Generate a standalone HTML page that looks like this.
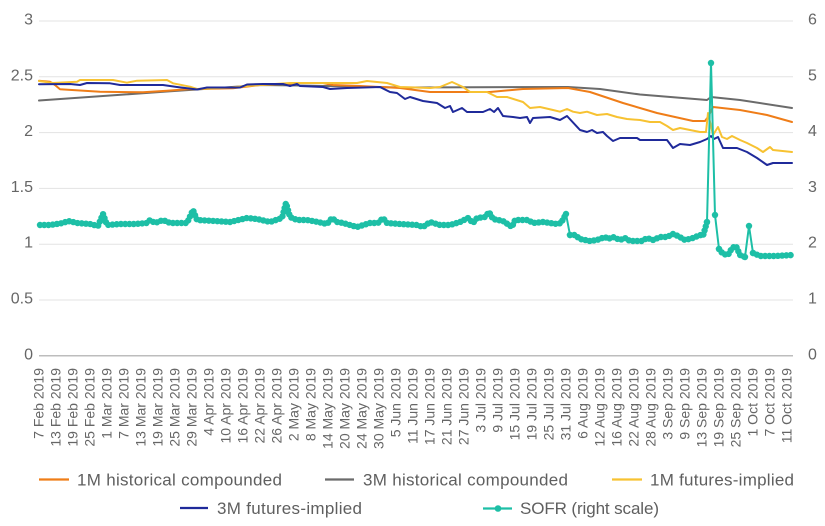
<!DOCTYPE html>
<html>
<head>
<meta charset="utf-8">
<style>
  html, body { margin: 0; padding: 0; background: #ffffff; }
  body { width: 825px; height: 526px; overflow: hidden; }
  svg { display: block; font-family: "Liberation Sans", Arial, sans-serif; }
  .tick { font-size: 16px; fill: #666666; }
  .xl { font-size: 14px; fill: #666666; }
  .lg { font-size: 17px; fill: #5f5f5f; }
</style>
</head>
<body>
<svg width="825" height="526" viewBox="0 0 825 526" xmlns="http://www.w3.org/2000/svg">
  <rect x="0" y="0" width="825" height="526" fill="#ffffff"/>

  <!-- gridlines -->
  <g stroke="#e3e3e3" stroke-width="1">
    <line x1="39" y1="21" x2="793" y2="21"/>
    <line x1="39" y1="76.8" x2="793" y2="76.8"/>
    <line x1="39" y1="132.6" x2="793" y2="132.6"/>
    <line x1="39" y1="188.4" x2="793" y2="188.4"/>
    <line x1="39" y1="244.2" x2="793" y2="244.2"/>
    <line x1="39" y1="300" x2="793" y2="300"/>
  </g>
  <line x1="39" y1="355.8" x2="793" y2="355.8" stroke="#bdbdbd" stroke-width="1.5"/>

  <!-- left axis labels -->
  <g class="tick" text-anchor="end">
    <text x="33" y="24.5">3</text>
    <text x="33" y="80.3">2.5</text>
    <text x="33" y="136.1">2</text>
    <text x="33" y="191.9">1.5</text>
    <text x="33" y="247.7">1</text>
    <text x="33" y="303.5">0.5</text>
    <text x="33" y="359.3">0</text>
  </g>
  <!-- right axis labels -->
  <g class="tick" text-anchor="start">
    <text x="808" y="24.5">6</text>
    <text x="808" y="80.3">5</text>
    <text x="808" y="136.1">4</text>
    <text x="808" y="191.9">3</text>
    <text x="808" y="247.7">2</text>
    <text x="808" y="303.5">1</text>
    <text x="808" y="359.3">0</text>
  </g>

  <!-- x axis labels -->
  <g class="xl" text-anchor="end">
    <text transform="translate(43.3,368) rotate(-90)">7 Feb 2019</text>
    <text transform="translate(60.3,368) rotate(-90)">13 Feb 2019</text>
    <text transform="translate(77.3,368) rotate(-90)">19 Feb 2019</text>
    <text transform="translate(94.3,368) rotate(-90)">25 Feb 2019</text>
    <text transform="translate(111.3,368) rotate(-90)">1 Mar 2019</text>
    <text transform="translate(128.4,368) rotate(-90)">7 Mar 2019</text>
    <text transform="translate(145.4,368) rotate(-90)">13 Mar 2019</text>
    <text transform="translate(162.4,368) rotate(-90)">19 Mar 2019</text>
    <text transform="translate(179.4,368) rotate(-90)">25 Mar 2019</text>
    <text transform="translate(196.4,368) rotate(-90)">29 Mar 2019</text>
    <text transform="translate(213.4,368) rotate(-90)">4 Apr 2019</text>
    <text transform="translate(230.4,368) rotate(-90)">10 Apr 2019</text>
    <text transform="translate(247.4,368) rotate(-90)">16 Apr 2019</text>
    <text transform="translate(264.4,368) rotate(-90)">22 Apr 2019</text>
    <text transform="translate(281.4,368) rotate(-90)">26 Apr 2019</text>
    <text transform="translate(298.5,368) rotate(-90)">2 May 2019</text>
    <text transform="translate(315.5,368) rotate(-90)">8 May 2019</text>
    <text transform="translate(332.5,368) rotate(-90)">14 May 2019</text>
    <text transform="translate(349.5,368) rotate(-90)">20 May 2019</text>
    <text transform="translate(366.5,368) rotate(-90)">24 May 2019</text>
    <text transform="translate(383.5,368) rotate(-90)">30 May 2019</text>
    <text transform="translate(400.5,368) rotate(-90)">5 Jun 2019</text>
    <text transform="translate(417.5,368) rotate(-90)">11 Jun 2019</text>
    <text transform="translate(434.5,368) rotate(-90)">17 Jun 2019</text>
    <text transform="translate(451.5,368) rotate(-90)">21 Jun 2019</text>
    <text transform="translate(468.6,368) rotate(-90)">27 Jun 2019</text>
    <text transform="translate(485.6,368) rotate(-90)">3 Jul 2019</text>
    <text transform="translate(502.6,368) rotate(-90)">9 Jul 2019</text>
    <text transform="translate(519.6,368) rotate(-90)">15 Jul 2019</text>
    <text transform="translate(536.6,368) rotate(-90)">19 Jul 2019</text>
    <text transform="translate(553.6,368) rotate(-90)">25 Jul 2019</text>
    <text transform="translate(570.6,368) rotate(-90)">31 Jul 2019</text>
    <text transform="translate(587.6,368) rotate(-90)">6 Aug 2019</text>
    <text transform="translate(604.6,368) rotate(-90)">12 Aug 2019</text>
    <text transform="translate(621.6,368) rotate(-90)">16 Aug 2019</text>
    <text transform="translate(638.7,368) rotate(-90)">22 Aug 2019</text>
    <text transform="translate(655.7,368) rotate(-90)">28 Aug 2019</text>
    <text transform="translate(672.7,368) rotate(-90)">3 Sep 2019</text>
    <text transform="translate(689.7,368) rotate(-90)">9 Sep 2019</text>
    <text transform="translate(706.7,368) rotate(-90)">13 Sep 2019</text>
    <text transform="translate(723.7,368) rotate(-90)">19 Sep 2019</text>
    <text transform="translate(740.7,368) rotate(-90)">25 Sep 2019</text>
    <text transform="translate(757.7,368) rotate(-90)">1 Oct 2019</text>
    <text transform="translate(774.7,368) rotate(-90)">7 Oct 2019</text>
    <text transform="translate(791.7,368) rotate(-90)">11 Oct 2019</text>
  </g>

  <!-- series -->
  <g fill="none" stroke-width="2" stroke-linejoin="round" stroke-linecap="round">
    <!-- 3M historical compounded (gray) -->
    <polyline stroke="#6b6b6b" points="39,100.5 167,91.5 200,89.3 260,85 300,85.5 400,87.5 568,87 600,89 640,94.5 707,100 711,97 740,100 792,108"/>
    <!-- 1M historical compounded (orange) -->
    <polyline stroke="#ef7d18" points="39,80.7 50,81.7 55,85 60,89.3 100,91.7 143,92.3 167,90.7 187,89.3 233,88.3 260,85 300,83 323,83 333,85 360,86 400,88 430,92 470,92 490,92 523,89 568,88 590,92 623,103 657,113 693,121 705,121 708,117 713,107 740,110 767,115 792,122"/>
    <!-- 1M futures-implied (yellow) -->
    <polyline stroke="#f7c232" points="39,81 53,83 77,81.7 80,80 113,80 127,82.7 137,80.7 167,80 173,83.3 190,86.7 197,89 230,87.5 260,85 290,83 357,83 367,81 377,82 387,83 400,87 430,88 440,87 452,82 463,87 470,92 487,92 497,97 507,97 523,102 530,108 540,107 553,110 560,111.7 567,109 573,111.7 580,113 587,111.7 597,115 607,114 617,117 627,119 640,120 650,122 660,122 667,126 673,130 680,128 690,130 700,132 706,132 708,113 713,135 718,127 722,137 727,139 732,136 740,140 747,143 757,148 763,152 770,147 773,150 792,152"/>
    <!-- 3M futures-implied (navy) -->
    <polyline stroke="#1f2a9a" points="39,84.3 70,84 80,85 87,83 110,83.3 120,85 163,85 177,87 193,89 197,89.5 207,87.5 240,87.5 247,84.5 263,84 283,84 290,86 297,84 300,86 323,87 330,89 347,88 380,87 390,92 397,93 405,99 410,97 423,101 437,103 445,108 450,106 453,112 462,108 467,112 483,112 490,109 494,112 498,108 503,116 513,117 520,118 527,117 530,123 533,118 550,117 560,120 567,116 580,130 587,132 592,130 597,133 603,132 607,136 613,141 620,138 637,138 640,140 667,140 673,148 680,144 690,145 700,142 707,139 711,136 714,139 718,137 723,148 737,148 747,152 757,158 767,165 773,163 783,163 792,163"/>
  </g>

  <!-- SOFR (right scale) -->
  <g fill="none" stroke="#1dbfa6">
    <!-- thin connecting line -->
    <polyline stroke-width="2" stroke-linejoin="round" points="40,225 50,225 63,223 68,221 73,222 77,223 90,224 98,226 103,214 107,225 120,224 135,224 147,223 150,220 155,223 163,220 170,223 187,223 193,210 197,220 215,221 230,222 247,218 257,219 270,222 282,218 286,203 290,217 297,220 307,220 318,222 327,224 332,218 337,222 343,223 357,227 370,223 378,223 383,218 387,223 400,224 417,225 423,227 430,222 440,225 450,225 460,222 468,218 473,223 477,218 485,217 489,212 493,219 503,221 512,227 515,220 528,220 533,223 543,222 557,224 561,223 566,214 570,235 575,235 580,239 590,241 597,240 605,237 608,239 613,237 620,240 625,238 630,241 642,241 647,238 653,240 660,237 667,237 673,234 678,236 685,240 693,238 700,235 703,236 707,222 711,63 715,215 719,249 723,254 728,255 732,248 736,246 740,255 745,257 749,226 753,253 760,256 775,256 793,255"/>
    <!-- dotted markers along path -->
    <g stroke-width="6.4" stroke-linecap="round" stroke-linejoin="round" stroke-dasharray="0 4.25">
      <polyline points="40,225 50,225 63,223 68,221 73,222 77,223 90,224 98,226 103,214 107,225 120,224 135,224 147,223 150,220 155,223 163,220 170,223 187,223 193,210 197,220 215,221 230,222 247,218 257,219 270,222 282,218 286,203 290,217 297,220 307,220 318,222 327,224 332,218 337,222 343,223 357,227 370,223 378,223 383,218 387,223 400,224 417,225 423,227 430,222 440,225 450,225 460,222 468,218 473,223 477,218 485,217 489,212 493,219 503,221 512,227 515,220 528,220 533,223 543,222 557,224 561,223 566,214"/>
      <polyline points="570,235 575,235 580,239 590,241 597,240 605,237 608,239 613,237 620,240 625,238 630,241 642,241 647,238 653,240 660,237 667,237 673,234 678,236 685,240 693,238 700,235 703,236 707,222"/>
      <polyline points="719,249 723,254 728,255 732,248 736,246 740,255 745,257"/>
      <polyline points="753,253 760,256 775,256 793,255"/>
    </g>
  </g>
  <g fill="#1dbfa6">
    <circle cx="566" cy="214" r="3.2"/>
    <circle cx="570" cy="235" r="3.2"/>
    <circle cx="707" cy="222" r="3.2"/>
    <circle cx="711" cy="63" r="3.2"/>
    <circle cx="715" cy="215" r="3.2"/>
    <circle cx="719" cy="249" r="3.2"/>
    <circle cx="745" cy="257" r="3.2"/>
    <circle cx="749" cy="226" r="3.2"/>
    <circle cx="753" cy="253" r="3.2"/>
  </g>

  <!-- legend -->
  <g stroke-width="2.2">
    <line x1="39" y1="479.5" x2="69" y2="479.5" stroke="#ef7d18"/>
    <line x1="325" y1="479.5" x2="354" y2="479.5" stroke="#6b6b6b"/>
    <line x1="612" y1="479.5" x2="642" y2="479.5" stroke="#f7c232"/>
    <line x1="180" y1="508" x2="208" y2="508" stroke="#1f2a9a"/>
    <line x1="483" y1="508.5" x2="512" y2="508.5" stroke="#1dbfa6"/>
  </g>
  <circle cx="498" cy="508.5" r="3.3" fill="#1dbfa6"/>
  <g class="lg">
    <text x="77" y="485.5" textLength="205" lengthAdjust="spacing">1M historical compounded</text>
    <text x="363" y="485.5" textLength="205" lengthAdjust="spacing">3M historical compounded</text>
    <text x="650" y="485.5" textLength="144" lengthAdjust="spacing">1M futures-implied</text>
    <text x="217" y="514" textLength="145" lengthAdjust="spacing">3M futures-implied</text>
    <text x="520" y="514" textLength="139" lengthAdjust="spacing">SOFR (right scale)</text>
  </g>
</svg>
</body>
</html>
